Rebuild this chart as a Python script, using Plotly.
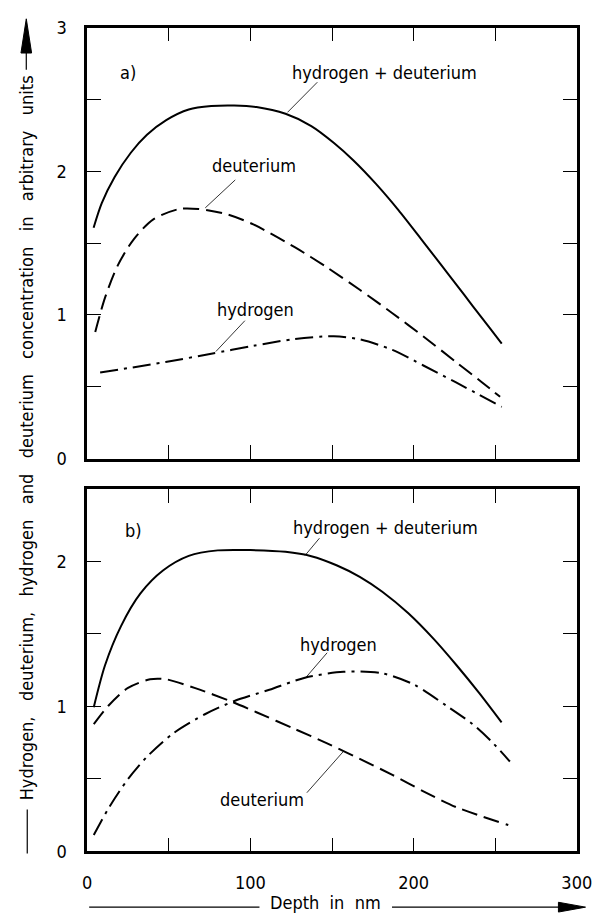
import plotly.graph_objects as go

W, H = 616, 924
FONT = "DejaVu Sans Condensed"

# ---------------- data ----------------
# panel a)
a_sum_x = [3.9, 8.9, 16.8, 26.7, 36.6, 48.4, 62.2, 76, 90, 103.7, 121.5, 137.3, 151.2, 163, 176.8, 190.7, 204.5, 216.4, 226.3, 236, 246, 254]
a_sum_y = [1.607, 1.778, 1.96, 2.129, 2.254, 2.356, 2.43, 2.454, 2.458, 2.447, 2.40, 2.315, 2.197, 2.077, 1.914, 1.73, 1.53, 1.355, 1.21, 1.065, 0.918, 0.80]

a_deu_x = [4.9, 10.9, 18.8, 28.6, 40.5, 56.3, 68.2, 86, 101.8, 127.4, 147, 167, 187, 206, 226, 242, 253]
a_deu_y = [0.882, 1.12, 1.347, 1.528, 1.665, 1.737, 1.737, 1.70, 1.63, 1.47, 1.33, 1.175, 1.012, 0.85, 0.672, 0.53, 0.43]

a_hyd_x = [7.9, 48, 76, 101.8, 127, 151, 167, 187, 206, 226, 254]
a_hyd_y = [0.599, 0.672, 0.73, 0.785, 0.832, 0.852, 0.83, 0.757, 0.648, 0.53, 0.36]

# panel b)
b_sum_x = [4, 10.9, 20.7, 32.6, 46.4, 62.2, 80, 100, 121.5, 137.3, 153.1, 167, 180.8, 196.6, 212.4, 226.3, 240, 253.9]
b_sum_y = [0.995, 1.284, 1.554, 1.779, 1.937, 2.038, 2.076, 2.078, 2.066, 2.036, 1.972, 1.894, 1.791, 1.644, 1.464, 1.284, 1.095, 0.89]

b_deu_x = [4, 12.8, 24.7, 38.5, 48.4, 66.2, 87.9, 103.7, 127, 147, 167, 187, 206, 226, 258]
b_deu_y = [0.878, 1.003, 1.126, 1.187, 1.187, 1.126, 1.036, 0.96, 0.845, 0.745, 0.638, 0.528, 0.415, 0.306, 0.182]

b_hyd_x = [4, 12.8, 24.7, 36.6, 52.3, 72.1, 89.9, 111.6, 133.4, 157, 180.8, 200.5, 220.3, 236.1, 248, 259]
b_hyd_y = [0.113, 0.293, 0.495, 0.653, 0.811, 0.946, 1.036, 1.115, 1.198, 1.239, 1.228, 1.149, 1.003, 0.878, 0.755, 0.62]

x_ticks = [0, 50, 100, 150, 200, 250, 300]
x_ticktext = ["0", "", "100", "", "200", "", "300"]
ya_ticks = [0, 0.5, 1, 1.5, 2, 2.5, 3]
ya_ticktext = ["0", "", "1", "", "2", "", "3"]
yb_ticks = [0, 0.5, 1, 1.5, 2, 2.5]
yb_ticktext = ["0", "", "1", "", "2", ""]

y_title = "Hydrogen, deuterium, hydrogen and deuterium concentration in arbitrary units"
x_title = "Depth in nm"

# ---------------- figure ----------------
SOLID = "solid"
DASH = "16px,7px"
DASHDOT = "18px,6px,3px,6px"
LW = 2

fig = go.Figure()

def add(x, y, dash, xa, ya):
    fig.add_trace(go.Scatter(x=x, y=y, mode="lines", xaxis=xa, yaxis=ya,
                             line=dict(color="black", width=LW, dash=dash,
                                       shape="spline", smoothing=0.8),
                             showlegend=False, hoverinfo="skip"))

add(a_sum_x, a_sum_y, SOLID, "x", "y")
add(a_deu_x, a_deu_y, DASH, "x", "y")
add(a_hyd_x, a_hyd_y, DASHDOT, "x", "y")
add(b_sum_x, b_sum_y, SOLID, "x2", "y2")
add(b_deu_x, b_deu_y, DASH, "x2", "y2")
add(b_hyd_x, b_hyd_y, DASHDOT, "x2", "y2")

def px_x(p):
    return p / W

def px_y(p):
    return 1 - p / H

xdom = [px_x(85), px_x(591)]
axis_common = dict(showline=True, linecolor="black", linewidth=2.5, mirror="ticks",
                   ticks="inside", ticklen=14, tickwidth=1.2, tickcolor="black",
                   showgrid=False, zeroline=False,
                   tickfont=dict(family=FONT, size=18, color="black"))

fig.update_layout(
    width=W, height=H, autosize=False,
    margin=dict(l=0, r=0, t=0, b=0),
    paper_bgcolor="white", plot_bgcolor="white",
    xaxis=dict(axis_common, domain=xdom, anchor="y", range=[0, 300],
               tickmode="array", tickvals=x_ticks, showticklabels=False),
    yaxis=dict(axis_common, domain=[px_y(458), px_y(17)], anchor="x", range=[0, 3],
               tickmode="array", tickvals=ya_ticks, ticktext=ya_ticktext,
               ticklabelstandoff=14),
    xaxis2=dict(axis_common, domain=xdom, anchor="y2", range=[0, 300],
                tickmode="array", tickvals=x_ticks, ticktext=x_ticktext,
                ticklabelstandoff=13),
    yaxis2=dict(axis_common, domain=[px_y(860), px_y(489)], anchor="x2", range=[0, 2.5],
                tickmode="array", tickvals=yb_ticks, ticktext=yb_ticktext,
                ticklabelstandoff=14),
)

TF = dict(family=FONT, size=18, color="black")

def spaced(s, sep):
    return s.replace(" ", sep)

def label(text, x, y, xa, ya):
    fig.add_annotation(text=text, x=x, y=y, xref=xa, yref=ya, showarrow=False,
                       font=TF, xanchor="center", yanchor="middle")

def leader(x0, y0, x1, y1, xa, ya):
    fig.add_shape(type="line", x0=x0, y0=y0, x1=x1, y1=y1, xref=xa, yref=ya,
                  line=dict(color="black", width=0.8))

# panel a labels
label("a)", 25, 2.69, "x", "y")
label("hydrogen + deuterium", 182, 2.69, "x", "y")
leader(141, 2.62, 122.7, 2.41, "x", "y")
label("deuterium", 102, 2.04, "x", "y")
leader(90.7, 1.94, 72.3, 1.745, "x", "y")
label("hydrogen", 103, 1.04, "x", "y")
leader(96.6, 0.96, 78.8, 0.745, "x", "y")

# panel b labels
label("b)", 28.5, 2.216, "x2", "y2")
label("hydrogen + deuterium", 182.6, 2.236, "x2", "y2")
leader(142.3, 2.16, 133.4, 2.04, "x2", "y2")
label("hydrogen", 154, 1.43, "x2", "y2")
leader(147, 1.37, 134, 1.20, "x2", "y2")
label("deuterium", 107, 0.36, "x2", "y2")
leader(134.6, 0.405, 157, 0.69, "x2", "y2")

# axis titles
fig.add_annotation(text=spaced(y_title, "\u00a0\u00a0\u00a0"), x=px_x(22), y=px_y(437),
                   xref="paper", yref="paper",
                   showarrow=False, textangle=-90, font=TF,
                   xanchor="center", yanchor="middle")
fig.add_annotation(text=spaced(x_title, "\u00a0\u00a0"), x=px_x(331), y=px_y(912),
                   xref="paper", yref="paper",
                   showarrow=False, font=TF, xanchor="center", yanchor="middle")

def pline(x0, y0, x1, y1, w=1.2):
    fig.add_shape(type="line", xref="paper", yref="paper",
                  x0=px_x(x0), y0=px_y(y0), x1=px_x(x1), y1=px_y(y1),
                  line=dict(color="black", width=w))

def tri(pts):
    path = "M " + " L ".join(f"{px_x(a):.5f},{px_y(b):.5f}" for a, b in pts) + " Z"
    fig.add_shape(type="path", xref="paper", yref="paper", path=path,
                  fillcolor="black", line=dict(color="black", width=1))

# y title arrow and lead line
pline(22, 40, 22, 60)
tri([(22, 8), (16.5, 43), (27.5, 43)])
pline(23, 817, 23, 862)

# x title lines and arrow
pline(87, 917, 263, 917)
pline(400, 917, 575, 917)
tri([(600, 917), (572, 912), (572, 922)])

fig.write_html("out.html")
